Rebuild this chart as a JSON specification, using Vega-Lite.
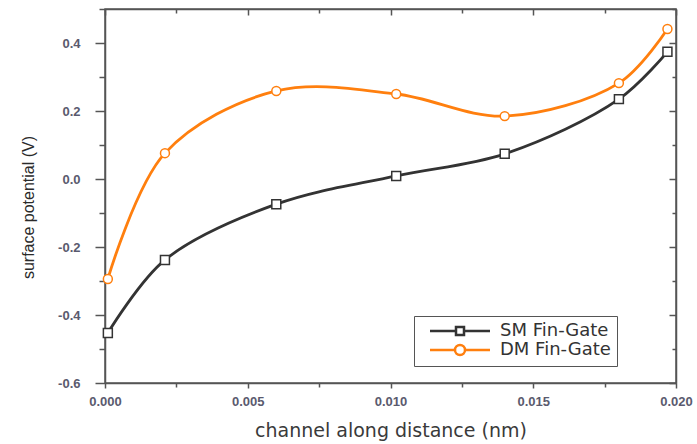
{
  "$schema": "https://vega.github.io/schema/vega-lite/v6.json",
  "width": 571,
  "height": 374,
  "autosize": "none",
  "padding": {"left": 105, "top": 9, "right": 21, "bottom": 61},
  "background": "white",
  "config": {
    "view": {"stroke": "#555555", "strokeWidth": 1.5},
    "axis": {
      "domainColor": "#555555",
      "domainWidth": 1.5,
      "tickColor": "#555555",
      "tickWidth": 1.5,
      "grid": false,
      "labelFont": "Liberation Sans",
      "labelFontWeight": "bold",
      "labelFontSize": 13,
      "labelColor": "#5a5a6e",
      "labelOverlap": false,
      "labelFlush": false,
      "labelBound": false,
      "titleFont": "Liberation Sans",
      "titleFontWeight": "normal",
      "titleColor": "#333333"
    }
  },
  "data": {
    "values": [
      {"series": "SM Fin-Gate", "x": 0.0001, "y": -0.453},
      {"series": "SM Fin-Gate", "x": 0.0021, "y": -0.238},
      {"series": "SM Fin-Gate", "x": 0.0060, "y": -0.074},
      {"series": "SM Fin-Gate", "x": 0.0102, "y": 0.009},
      {"series": "SM Fin-Gate", "x": 0.0140, "y": 0.074},
      {"series": "SM Fin-Gate", "x": 0.0180, "y": 0.235},
      {"series": "SM Fin-Gate", "x": 0.0197, "y": 0.374},
      {"series": "DM Fin-Gate", "x": 0.0001, "y": -0.294},
      {"series": "DM Fin-Gate", "x": 0.0021, "y": 0.076},
      {"series": "DM Fin-Gate", "x": 0.0060, "y": 0.259},
      {"series": "DM Fin-Gate", "x": 0.0102, "y": 0.250},
      {"series": "DM Fin-Gate", "x": 0.0140, "y": 0.185},
      {"series": "DM Fin-Gate", "x": 0.0180, "y": 0.282},
      {"series": "DM Fin-Gate", "x": 0.0197, "y": 0.441}
    ]
  },
  "resolve": {"axis": {"x": "independent", "y": "independent"}},
  "layer": [
    {
      "mark": {"type": "line", "interpolate": "catmull-rom", "strokeWidth": 2.8},
      "encoding": {
        "x": {
          "field": "x", "type": "quantitative",
          "scale": {"domain": [0, 0.02], "nice": false, "zero": false},
          "axis": {
            "orient": "bottom",
            "title": "channel along distance (nm)",
            "titleFont": "DejaVu Sans",
            "titleFontSize": 19,
            "titleColor": "#3a3a3a",
            "titlePadding": 13,
            "values": [0, 0.0025, 0.005, 0.0075, 0.01, 0.0125, 0.015, 0.0175, 0.02],
            "labelExpr": "round(datum.value*400) % 2 === 0 ? format(datum.value, '.3f') : ''",
            "tickSize": {"condition": {"test": "round(datum.value*400) % 2 === 0", "value": 5}, "value": 4},
            "labelPadding": 7
          }
        },
        "y": {
          "field": "y", "type": "quantitative",
          "scale": {"domain": [-0.6, 0.5], "nice": false, "zero": false},
          "axis": {
            "orient": "left",
            "title": "surface potential (V)",
            "titleFontSize": 16,
            "titleColor": "#2a2a2a",
            "titlePadding": 21,
            "titleY": 198,
            "values": [-0.6, -0.5, -0.4, -0.3, -0.2, -0.1, 0, 0.1, 0.2, 0.3, 0.4, 0.5],
            "labelExpr": "round(datum.value*10) % 2 === 0 && datum.value < 0.45 ? (datum.value < -0.01 ? '-' + format(abs(datum.value), '.1f') : format(abs(datum.value), '.1f')) : ''",
            "tickSize": {"condition": {"test": "round(datum.value*10) % 2 === 0", "value": 10}, "value": 6},
            "labelPadding": 15
          }
        },
        "color": {
          "field": "series", "type": "nominal",
          "scale": {"domain": ["SM Fin-Gate", "DM Fin-Gate"], "range": ["#333333", "#ff7f0e"]},
          "legend": {
            "title": null,
            "orient": "none",
            "legendX": 309,
            "legendY": 307,
            "strokeColor": "#555555",
            "fillColor": "white",
            "padding": 6,
            "symbolSize": 100,
            "symbolOffset": 31,
            "symbolStrokeWidth": 2.5,
            "symbolFillColor": "white",
            "labelFont": "DejaVu Sans",
            "labelFontSize": 18,
            "labelColor": "#333333",
            "labelOffset": 31,
            "rowPadding": 0,
            "encode": {
              "symbols": {
                "update": {
                  "shape": {"signal": "datum.value === 'SM Fin-Gate' ? 'M-6,0H-0.8M0.8,0H6M-0.8,-0.8H0.8V0.8H-0.8Z' : 'M-6,0H-1M1,0H6M-1,0A1,1 0 1,1 1,0A1,1 0 1,1 -1,0Z'"},
                  "fill": {"value": "white"}
                }
              }
            }
          }
        }
      }
    },
    {
      "mark": {"type": "point", "filled": false, "fill": "white", "strokeWidth": 1.5, "opacity": 1},
      "encoding": {
        "x": {
          "field": "x", "type": "quantitative",
          "axis": {
            "orient": "top",
            "title": null,
            "labels": false,
            "values": [0, 0.0025, 0.005, 0.0075, 0.01, 0.0125, 0.015, 0.0175, 0.02],
            "tickSize": {"condition": {"test": "round(datum.value*400) % 2 === 0", "value": -6}, "value": -4}
          }
        },
        "y": {
          "field": "y", "type": "quantitative",
          "axis": {
            "orient": "right",
            "title": null,
            "labels": false,
            "values": [-0.6, -0.5, -0.4, -0.3, -0.2, -0.1, 0, 0.1, 0.2, 0.3, 0.4, 0.5],
            "tickSize": {"condition": {"test": "round(datum.value*10) % 2 === 0", "value": -7}, "value": -4}
          }
        },
        "color": {"field": "series", "type": "nominal", "legend": null},
        "shape": {"condition": {"test": "datum.series === 'SM Fin-Gate'", "value": "square"}, "value": "circle"},
        "size": {"value": 80}
      }
    }
  ]
}
